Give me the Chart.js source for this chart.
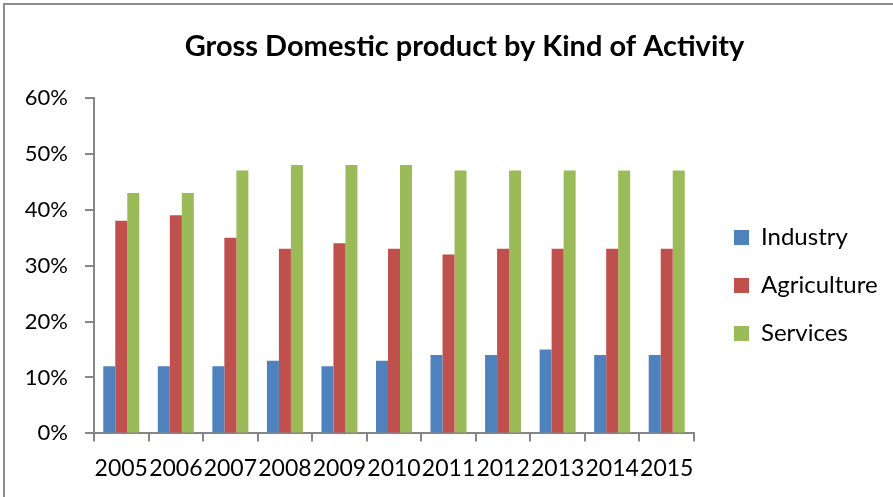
<!DOCTYPE html>
<html>
<head>
<meta charset="utf-8">
<title>Gross Domestic product by Kind of Activity</title>
<script src="https://cdn.jsdelivr.net/npm/chart.js@4/dist/chart.umd.min.js"></script>
<style>
  html, body { margin: 0; padding: 0; background: #fff; }
  #wrap { position: relative; width: 893px; height: 497px; overflow: hidden; }
  #frame { position: absolute; left: 3px; top: 3px; width: 1000px; height: 600px;
           border-top: 2px solid #8c8c8c; border-left: 2px solid #8c8c8c; }
  #grafico { position: absolute; left: 0; top: 0; }
</style>
</head>
<body>
<div id="wrap">
  <div id="frame"></div>
  <canvas id="grafico" width="893" height="497"></canvas>
</div>
<script>
const anos = ["2005", "2006", "2007", "2008", "2009", "2010", "2011", "2012", "2013", "2014", "2015"];
const industria = [12, 12, 12, 13, 12, 13, 14, 14, 15, 14, 14];
const agricultura = [38, 39, 35, 33, 34, 33, 32, 33, 33, 33, 33];
const servicos = [43, 43, 47, 48, 48, 48, 47, 47, 47, 47, 47];
const ticksY = [0, 10, 20, 30, 40, 50, 60];

const cinza = "#868686";
const fonte = "Lato, 'Open Sans', sans-serif";

// legenda fica mais larga e deslocada para a direita/baixo; titulo um pouco para a direita
const ajusteLegenda = {
    id: "ajusteLegenda",
    beforeInit(chart) {
        const fitOriginal = chart.legend.fit;
        chart.legend.fit = function () {
            fitOriginal.call(this);
            this.width = 199;
        };
    },
    afterLayout(chart) {
        const leg = chart.legend;
        leg.left += 16;
        leg.top += 38;
        leg.bottom += 38;
        const tit = chart.titleBlock;
        tit.left += 18;
        tit.right += 18;
    }
};

const grafico = new Chart("grafico", {
    type: "bar",
    data: {
        labels: anos,
        datasets: [
            { label: "Industry", data: industria, backgroundColor: "#4F81BD" },
            { label: "Agriculture", data: agricultura, backgroundColor: "#C0504D" },
            { label: "Services", data: servicos, backgroundColor: "#9BBB59" }
        ]
    },
    options: {
        responsive: false,
        animation: false,
        layout: { padding: { left: 0, right: 0, top: 0, bottom: 2 } },
        datasets: { bar: { categoryPercentage: 0.66, barPercentage: 1 } },
        plugins: {
            title: {
                display: true,
                text: "Gross Domestic product by Kind of Activity",
                color: "#000",
                font: { family: fonte, size: 29, weight: "bold" },
                padding: { top: 29, bottom: 34 }
            },
            legend: {
                position: "right",
                labels: {
                    color: "#000",
                    font: { family: fonte, size: 24 },
                    boxWidth: 15,
                    boxHeight: 15,
                    padding: 24
                }
            },
            tooltip: { enabled: false }
        },
        scales: {
            x: {
                grid: { drawOnChartArea: false, drawTicks: true, tickLength: 8, color: cinza, lineWidth: 2 },
                border: { color: cinza, width: 2 },
                ticks: { color: "#000", font: { family: fonte, size: 23 }, padding: 13, autoSkip: false, maxRotation: 0 }
            },
            y: {
                min: 0,
                max: 60,
                afterBuildTicks(scale) {
                    scale.ticks = ticksY.map((v) => ({ value: v }));
                },
                afterFit(scale) {
                    scale.width = 94;
                },
                grid: { drawOnChartArea: false, drawTicks: true, tickLength: 9, color: cinza, lineWidth: 2 },
                border: { color: cinza, width: 2 },
                ticks: {
                    color: "#000",
                    font: { family: fonte, size: 22 },
                    padding: 17,
                    callback: (v) => v + "%"
                }
            }
        }
    },
    plugins: [ajusteLegenda]
});
</script>
</body>
</html>
